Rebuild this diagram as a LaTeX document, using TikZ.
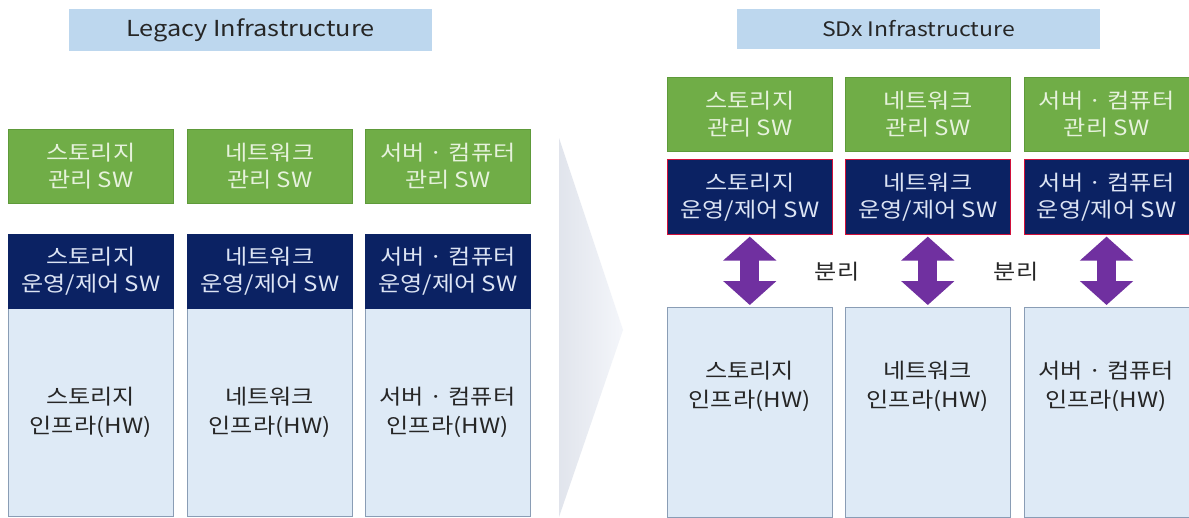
\documentclass[tikz,border=0pt]{standalone}
\usepackage{fontspec}
\setmainfont[FakeStretch=1.15]{Noto Sans CJK KR}
\usetikzlibrary{arrows.meta}
\definecolor{titlefill}{HTML}{BDD7EE}
\definecolor{mgreen}{HTML}{70AD47}
\definecolor{mgreenline}{HTML}{5E9A3A}
\definecolor{mgreentext}{HTML}{E6F2DC}
\definecolor{navy}{HTML}{0B2263}
\definecolor{navytext}{HTML}{DCE4F4}
\definecolor{lightfill}{HTML}{DEEAF6}
\definecolor{lightline}{HTML}{8A9DB5}
\definecolor{chev}{HTML}{E3E8F3}
\definecolor{purp}{HTML}{7030A0}
\definecolor{redline}{HTML}{D0103A}
\definecolor{darktext}{HTML}{262626}
\tikzset{
  x=1pt, y=-1pt,
  titlebox/.style={fill=titlefill, draw=none, inner sep=0pt, text=black!85},
  greenbox/.style={fill=mgreen, draw=mgreenline, line width=0.6pt, anchor=north west, minimum width=165pt, minimum height=74pt, inner sep=0pt, align=center, text=mgreentext, font=\fontsize{21}{27}\selectfont},
  navybox/.style={fill=navy, draw=navy, line width=0.6pt, anchor=north west, minimum width=165pt, minimum height=74pt, inner sep=0pt, align=center, text=navytext, font=\fontsize{21}{27}\selectfont},
  navyred/.style={navybox, draw=redline},
  lightbox/.style={fill=lightfill, draw=lightline, line width=0.6pt, anchor=north west, minimum width=165pt, inner sep=0pt},
  lighttext/.style={align=center, text=darktext, inner sep=0pt, font=\fontsize{21}{29}\selectfont},
  sepl/.style={text=darktext, inner sep=0pt, font=\fontsize{21}{24}\selectfont},
  bigarrow/.style={draw=purp, line width=19pt, {Triangle[width=52pt,length=24pt]}-{Triangle[width=52pt,length=24pt]}, shorten <=2pt, shorten >=2pt}
}
\begin{document}
\begin{tikzpicture}
\useasboundingbox (0,0) rectangle (1189,517);
\fill[white] (0,0) rectangle (1189,517);
% chevron
\shade[left color=chev!90!gray!80, right color=chev!40] (559,138) -- (623,330) -- (559,517) -- cycle;
% titles
\node[titlebox, minimum width=363pt, minimum height=42pt, font=\fontsize{22}{24}\selectfont] (tl) at (250.5,30) {Legacy Infrastructure};
\node[titlebox, minimum width=363pt, minimum height=40pt, font=\fontsize{20}{24}\selectfont] (tr) at (918.5,29) {SDx Infrastructure};
% left: legacy
\node[lightbox, minimum height=208pt] (ll1) at (8,308) {};
\node[lightbox, minimum height=208pt] (ll2) at (187,308) {};
\node[lightbox, minimum height=208pt] (ll3) at (365,308) {};
\node[greenbox] (lg1) at (8,129) {스토리지\\관리 SW};
\node[greenbox] (lg2) at (187,129) {네트워크\\관리 SW};
\node[greenbox] (lg3) at (365,129) {서버 · 컴퓨터\\관리 SW};
\node[navybox] (ln1) at (8,234) {스토리지\\운영/제어 SW};
\node[navybox] (ln2) at (187,234) {네트워크\\운영/제어 SW};
\node[navybox] (ln3) at (365,234) {서버 · 컴퓨터\\운영/제어 SW};
\node[lighttext] (lt1) at (90.5,412) {스토리지\\인프라(HW)};
\node[lighttext] (lt2) at (269.5,412) {네트워크\\인프라(HW)};
\node[lighttext] (lt3) at (447.5,412) {서버 · 컴퓨터\\인프라(HW)};
% right: SDx
\node[greenbox] (rg1) at (667,77) {스토리지\\관리 SW};
\node[greenbox] (rg2) at (845,77) {네트워크\\관리 SW};
\node[greenbox, minimum width=164.5pt] (rg3) at (1024,77) {서버 · 컴퓨터\\관리 SW};
\node[navyred, minimum height=75pt] (rn1) at (667,159) {스토리지\\운영/제어 SW};
\node[navyred, minimum height=75pt] (rn2) at (845,159) {네트워크\\운영/제어 SW};
\node[navyred, minimum height=75pt, minimum width=164.5pt] (rn3) at (1024,159) {서버 · 컴퓨터\\운영/제어 SW};
\node[lightbox, minimum height=210pt] (rl1) at (667,307) {};
\node[lightbox, minimum height=210pt] (rl2) at (845,307) {};
\node[lightbox, minimum height=210pt, minimum width=164.5pt] (rl3) at (1024,307) {};
\node[lighttext] (rt1) at (749.5,386) {스토리지\\인프라(HW)};
\node[lighttext] (rt2) at (927.5,386) {네트워크\\인프라(HW)};
\node[lighttext] (rt3) at (1106,386) {서버 · 컴퓨터\\인프라(HW)};
% arrows
\draw[bigarrow] (rn1.south) -- (rl1.north);
\draw[bigarrow] (rn2.south) -- (rl2.north);
\draw[bigarrow] (rn3.south) -- (rl3.north);
\node[sepl] (s1) at (837,272) {분리};
\node[sepl] (s2) at (1016,272) {분리};
\end{tikzpicture}
\end{document}
